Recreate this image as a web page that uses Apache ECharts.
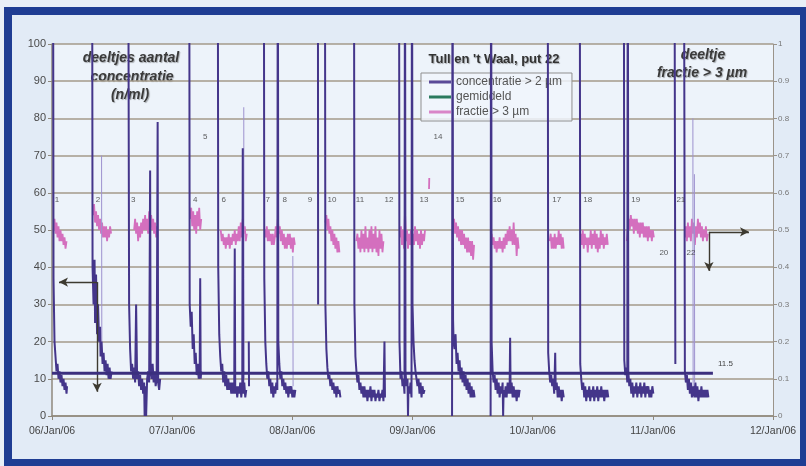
<!DOCTYPE html>
<html>
<head>
<meta charset="utf-8">
<script src="https://cdn.jsdelivr.net/npm/echarts@6/dist/echarts.min.js"></script>
<style>
  html, body { margin: 0; padding: 0; background: #e9eff7; }
  #wrap { position: relative; width: 806px; height: 466px; overflow: hidden; background: #e9eff7; }
  #frame { position: absolute; left: 4px; top: 7px; width: 804px; height: 459px; box-sizing: border-box;
           border: 8px solid #1f3d93; border-bottom-width: 7px; background: #e2ebf6; }
  #chart { position: absolute; left: 0; top: 0; width: 806px; height: 466px; }
</style>
</head>
<body>
<div id="wrap">
  <div id="frame"></div>
  <div id="chart"></div>
</div>
<script>
// ---- data (hours since 06/Jan/06 00:00) ----
const dayLabels = ['06/Jan/06', '07/Jan/06', '08/Jan/06', '09/Jan/06', '10/Jan/06', '11/Jan/06', '12/Jan/06'];

// concentratie > 2 µm (n/ml), null = measurement gap
const concentration = [
  [0.2,150],[0.3,37],[0.5,20],[0.7,16],[0.9,12],[1.1,14],[1.3,10],[1.5,12],[1.7,9],[1.9,11],[2.1,8],[2.3,10],[2.5,7],[2.7,9],[2.9,6],[3.0,8],null,
  [8.0,150],[8.1,40],[8.3,30],[8.5,42],[8.6,25],[8.8,38],[9.0,22],[9.2,30],[9.4,20],[9.6,24],[9.7,16],[9.9,20],[10.1,14],[10.3,17],[10.5,12],[10.7,15],[10.9,11],[11.1,14],[11.3,10],[11.5,13],[11.7,10],[11.9,12],null,
  [15.2,150],[15.4,30],[15.6,18],[15.8,12],[16.0,14],[16.2,10],[16.4,13],[16.6,9],[16.8,30],[17.0,10],[17.2,12],[17.4,8],[17.6,11],[17.8,7],[18.0,10],[18.2,6],[18.4,9],[18.5,0],[18.7,8],[18.8,0],[19.0,10],[19.2,12],[19.4,9],[19.6,66],[19.7,12],[19.9,10],[20.1,14],[20.3,9],[20.5,12],[20.7,8],[20.9,10],[21.1,79],[21.2,9],[21.4,7],[21.6,10],null,
  [27.4,150],[27.5,30],[27.7,24],[27.9,28],[28.1,18],[28.3,22],[28.5,14],[28.7,17],[28.9,11],[29.1,14],[29.3,10],[29.5,13],[29.6,37],[29.7,10],[29.8,12],null,
  [33.1,150],[33.2,40],[33.4,22],[33.6,16],[33.8,12],[34.0,14],[34.2,9],[34.4,12],[34.6,8],[34.8,11],[35.0,7],[35.2,10],[35.4,7],[35.6,9],[35.8,6],[36.0,9],[36.2,6],[36.4,9],[36.5,45],[36.6,6],[36.8,8],[37.0,5],[37.2,8],[37.4,6],[37.6,9],[37.8,5],[38.0,8],[38.1,72],[38.2,6],[38.4,9],[38.6,5],[38.8,7],null,
  [39.3,20],[39.35,8],null,
  [42.3,150],[42.4,37],[42.6,20],[42.8,14],[43.0,10],[43.2,12],[43.4,8],[43.6,10],[43.8,6],[44.0,9],[44.2,5],[44.4,8],[44.6,6],[44.8,9],[45.0,7],[45.1,150],[45.2,20],[45.4,14],[45.6,10],[45.8,12],[46.0,8],[46.2,10],[46.4,7],[46.6,9],[46.8,6],[47.0,8],[47.2,5],[47.4,8],[47.6,6],[47.8,8],[48.0,5],[48.2,7],[48.4,5],[48.6,7],null,
  [53.1,150],[53.15,30],null,
  [54.5,150],[54.6,30],[54.8,18],[55.0,13],[55.2,10],[55.4,11],[55.6,8],[55.8,10],[56.0,7],[56.2,9],[56.4,6],[56.6,8],[56.8,5],[57.0,8],[57.2,6],[57.4,7],[57.6,5],null,
  [60.3,150],[60.4,30],[60.6,16],[60.8,12],[61.0,9],[61.2,11],[61.4,7],[61.6,9],[61.8,6],[62.0,8],[62.2,5],[62.4,8],[62.6,5],[62.8,7],[63.0,4],[63.2,7],[63.4,5],[63.6,8],[63.8,4],[64.0,7],[64.2,5],[64.4,7],[64.6,4],[64.8,6],[65.0,5],[65.2,7],[65.4,4],[65.6,6],[65.8,5],[66.0,7],[66.2,4],[66.4,20],[66.5,5],null,
  [69.3,150],[69.4,20],[69.6,10],[69.8,12],[70.0,8],[70.2,10],[70.4,6],[70.5,150],[70.6,12],[70.8,8],[71.0,10],[71.1,0],[71.2,8],[71.4,6],[71.6,9],[71.8,5],[71.9,150],[72.0,30],[72.2,20],[72.4,15],[72.6,12],[72.8,10],[73.0,8],[73.2,10],[73.4,6],[73.6,9],[73.8,5],[74.0,8],[74.2,6],[74.4,7],null,
  [79.9,0],[80.0,150],[80.1,26],[80.2,20],[80.4,18],[80.6,22],[80.8,14],[81.0,17],[81.2,12],[81.4,15],[81.6,10],[81.8,13],[82.0,9],[82.2,12],[82.4,8],[82.6,11],[82.8,7],[83.0,10],[83.2,6],[83.4,9],[83.6,5],[83.8,8],[84.0,5],[84.2,7],[84.4,5],null,
  [87.6,0],[87.7,150],[87.8,20],[88.0,12],[88.2,9],[88.4,11],[88.6,7],[88.8,10],[89.0,6],[89.2,9],[89.4,5],[89.6,8],[89.8,6],[90.0,9],[90.1,0],[90.2,7],[90.4,5],[90.6,8],[90.8,5],[91.0,9],[91.2,6],[91.4,8],[91.5,21],[91.6,6],[91.8,9],[92.0,5],[92.2,8],[92.4,5],[92.6,7],[92.8,4],[93.0,7],[93.2,5],[93.4,7],null,
  [99.0,150],[99.1,17],[99.3,12],[99.5,9],[99.7,11],[99.9,8],[100.1,10],[100.3,6],[100.5,17],[100.6,7],[100.8,9],[101.0,5],[101.2,8],[101.4,5],[101.6,7],[101.8,4],[102.0,7],[102.2,5],null,
  [105.4,150],[105.5,14],[105.7,10],[105.9,7],[106.1,9],[106.3,5],[106.5,8],[106.7,4],[106.9,7],[107.1,5],[107.3,8],[107.5,4],[107.7,7],[107.9,5],[108.1,8],[108.3,4],[108.5,7],[108.7,5],[108.9,8],[109.1,4],[109.3,7],[109.5,5],[109.7,8],[109.9,5],[110.1,7],[110.3,4],[110.5,7],[110.7,5],[110.9,7],[111.1,5],null,
  [114.2,150],[114.3,15],[114.5,11],[114.7,13],[114.9,9],[115.0,150],[115.1,12],[115.3,8],[115.5,10],[115.7,6],[115.9,9],[116.1,5],[116.3,8],[116.5,6],[116.7,9],[116.9,5],[117.1,8],[117.3,6],[117.5,9],[117.7,5],[117.9,8],[118.1,6],[118.3,9],[118.5,5],[118.7,8],[118.9,6],[119.1,8],[119.3,5],[119.5,7],[119.7,5],[119.9,8],[120.1,6],null,
  [124.3,150],[124.5,14],null,
  [126.2,150],[126.4,12],[126.6,9],[126.8,11],[127.0,7],[127.2,10],[127.4,6],[127.6,9],[127.8,5],[128.1,8],[128.3,5],[128.5,9],[128.7,5],[128.9,8],[129.1,4],[129.3,7],[129.5,5],[129.7,8],[129.9,5],[130.1,7],[130.3,5],[130.5,7],[130.7,5],[130.9,7],[131.1,5],null
];

// faint spikes in the concentration trace
const faintSpikes = [
  [9.9,70],[9.95,20],null,
  [38.3,83],[38.35,10],null,
  [48.1,43],[48.15,8],null,
  [128.0,80],[128.05,8],null,
  [128.3,65],[128.35,9],null
];

// fractie > 3 µm (0..1, right axis)
const fraction = [
  [0.3,0.50],[0.5,0.53],[0.7,0.49],[0.9,0.52],[1.1,0.48],[1.3,0.51],[1.5,0.47],[1.7,0.50],[1.9,0.47],[2.1,0.49],[2.3,0.46],[2.5,0.48],[2.7,0.45],[2.9,0.47],null,
  [8.2,0.54],[8.4,0.57],[8.6,0.52],[8.8,0.55],[9.0,0.51],[9.2,0.54],[9.4,0.50],[9.6,0.53],[9.8,0.49],[10.0,0.52],[10.2,0.48],[10.4,0.51],[10.6,0.48],[10.8,0.51],[11.0,0.47],[11.2,0.50],[11.4,0.48],[11.6,0.51],[11.8,0.49],null,
  [16.4,0.50],[16.6,0.53],[16.8,0.49],[17.0,0.52],[17.2,0.47],[17.4,0.51],[17.6,0.48],[17.8,0.52],[18.0,0.49],[18.2,0.53],[18.4,0.50],[18.6,0.54],[18.8,0.50],[19.0,0.53],[19.2,0.49],[19.4,0.55],[19.6,0.51],[19.8,0.54],[20.0,0.50],[20.2,0.53],[20.4,0.49],[20.6,0.52],[20.8,0.48],[21.0,0.51],null,
  [27.6,0.53],[27.8,0.56],[28.0,0.51],[28.2,0.55],[28.4,0.50],[28.6,0.54],[28.8,0.49],[29.0,0.55],[29.2,0.51],[29.4,0.56],[29.6,0.50],[29.8,0.53],null,
  [33.7,0.50],[33.9,0.47],[34.1,0.49],[34.3,0.46],[34.5,0.48],[34.7,0.45],[34.9,0.48],[35.1,0.46],[35.3,0.49],[35.5,0.45],[35.7,0.48],[35.9,0.46],[36.1,0.49],[36.3,0.47],[36.5,0.50],[36.7,0.46],[36.9,0.49],[37.1,0.47],[37.3,0.51],[37.5,0.47],[37.7,0.52],[37.9,0.48],[38.1,0.53],[38.3,0.49],[38.5,0.51],[38.7,0.47],[38.9,0.49],null,
  [42.5,0.50],[42.7,0.48],[42.9,0.51],[43.1,0.47],[43.3,0.50],[43.5,0.47],[43.7,0.49],[43.9,0.46],[44.1,0.49],[44.3,0.46],[44.5,0.48],[44.7,0.51],[44.9,0.48],[45.1,0.53],[45.3,0.49],[45.5,0.51],[45.7,0.47],[45.9,0.50],[46.1,0.46],[46.3,0.49],[46.5,0.45],[46.7,0.48],[46.9,0.45],[47.1,0.49],[47.3,0.46],[47.5,0.49],[47.7,0.45],[47.9,0.48],[48.1,0.44],[48.3,0.48],[48.5,0.46],null,
  [54.6,0.52],[54.8,0.54],[55.0,0.50],[55.2,0.53],[55.4,0.49],[55.6,0.51],[55.8,0.47],[56.0,0.50],[56.2,0.46],[56.4,0.49],[56.6,0.45],[56.8,0.48],[57.0,0.44],[57.2,0.47],[57.4,0.44],null,
  [60.8,0.47],[61.0,0.49],[61.2,0.45],[61.4,0.48],[61.6,0.44],[61.8,0.50],[62.0,0.45],[62.2,0.49],[62.4,0.44],[62.6,0.51],[62.8,0.45],[63.0,0.48],[63.2,0.44],[63.4,0.50],[63.6,0.45],[63.8,0.51],[64.0,0.44],[64.2,0.49],[64.4,0.45],[64.6,0.51],[64.8,0.44],[65.0,0.48],[65.2,0.43],[65.4,0.50],[65.6,0.45],[65.8,0.49],[66.0,0.44],[66.2,0.47],null,
  [69.5,0.48],[69.7,0.51],[69.9,0.46],[70.1,0.50],[70.3,0.45],[70.5,0.55],[70.7,0.47],[70.9,0.50],[71.1,0.45],[71.3,0.49],[71.5,0.46],[71.7,0.50],[71.9,0.45],[72.1,0.49],[72.3,0.46],[72.5,0.51],[72.7,0.47],[72.9,0.50],[73.1,0.46],[73.3,0.49],[73.5,0.45],[73.7,0.50],[73.9,0.46],[74.1,0.49],[74.3,0.47],[74.5,0.50],null,
  [75.3,0.61],[75.35,0.64],null,
  [80.1,0.50],[80.3,0.53],[80.5,0.49],[80.7,0.52],[80.9,0.48],[81.1,0.51],[81.3,0.47],[81.5,0.50],[81.7,0.46],[81.9,0.50],[82.1,0.46],[82.3,0.49],[82.5,0.45],[82.7,0.48],[82.9,0.44],[83.1,0.48],[83.3,0.44],[83.5,0.47],[83.7,0.43],[83.9,0.47],[84.1,0.42],[84.3,0.46],null,
  [87.8,0.49],[88.0,0.46],[88.2,0.48],[88.4,0.45],[88.6,0.47],[88.8,0.44],[89.0,0.47],[89.2,0.45],[89.4,0.48],[89.6,0.45],[89.8,0.47],[90.0,0.44],[90.2,0.48],[90.4,0.45],[90.6,0.49],[90.8,0.46],[91.0,0.50],[91.2,0.47],[91.4,0.51],[91.6,0.47],[91.8,0.50],[92.0,0.46],[92.2,0.52],[92.4,0.46],[92.6,0.49],[92.8,0.43],[93.0,0.48],[93.2,0.45],null,
  [99.4,0.47],[99.6,0.49],[99.8,0.45],[100.0,0.48],[100.2,0.45],[100.4,0.49],[100.6,0.45],[100.8,0.48],[101.0,0.46],[101.2,0.50],[101.4,0.46],[101.6,0.49],[101.8,0.45],[102.0,0.48],[102.2,0.45],null,
  [105.6,0.49],[105.8,0.46],[106.0,0.50],[106.2,0.45],[106.4,0.49],[106.6,0.46],[106.8,0.48],[107.0,0.44],[107.2,0.48],[107.4,0.46],[107.6,0.50],[107.8,0.45],[108.0,0.49],[108.2,0.46],[108.4,0.50],[108.6,0.45],[108.8,0.49],[109.0,0.44],[109.2,0.48],[109.4,0.45],[109.6,0.50],[109.8,0.46],[110.0,0.49],[110.2,0.45],[110.4,0.48],[110.6,0.46],[110.8,0.49],[111.0,0.46],null,
  [114.8,0.47],[115.0,0.50],[115.2,0.53],[115.4,0.50],[115.6,0.54],[115.8,0.51],[116.0,0.53],[116.2,0.49],[116.4,0.53],[116.6,0.50],[116.8,0.53],[117.0,0.49],[117.2,0.52],[117.4,0.48],[117.6,0.52],[117.8,0.49],[118.0,0.52],[118.2,0.48],[118.4,0.51],[118.6,0.48],[118.8,0.51],[119.0,0.47],[119.2,0.51],[119.4,0.48],[119.6,0.50],[119.8,0.47],[120.0,0.50],[120.2,0.48],null,
  [126.4,0.48],[126.6,0.51],[126.8,0.47],[127.0,0.52],[127.2,0.48],[127.4,0.51],[127.6,0.47],[127.8,0.53],[128.0,0.49],[128.2,0.52],[128.4,0.46],[128.6,0.51],[128.8,0.48],[129.0,0.53],[129.2,0.49],[129.4,0.52],[129.6,0.48],[129.8,0.51],[130.0,0.47],[130.2,0.50],[130.4,0.48],[130.6,0.51],[130.8,0.47],[131.0,0.49],null
];

// gemiddeld (mean concentration)
const meanValue = 11.5;
const meanSpan = [0, 132];

// sample numbers: [hour, left-axis value, text]
const sampleLabels = [
  [1.0,58,'1'],[9.2,58,'2'],[16.2,58,'3'],[28.6,58,'4'],[30.6,75,'5'],[34.3,58,'6'],[43.1,58,'7'],[46.5,58,'8'],
  [51.5,58,'9'],[55.9,58,'10'],[61.5,58,'11'],[67.3,58,'12'],[74.3,58,'13'],[77.1,75,'14'],[81.5,58,'15'],
  [88.9,58,'16'],[100.8,58,'17'],[107.0,58,'18'],[116.6,58,'19'],[122.2,44,'20'],[125.6,58,'21'],[127.6,44,'22']
];

// annotation arrows in data coordinates (hour, left-axis value)
const leftArrows = [
  [[9.0,36],[1.4,36]],
  [[9.0,36],[9.0,6.5]]
];
const rightArrows = [
  [[131.2,49.5],[139.2,49.5]],
  [[131.2,49.5],[131.2,39]]
];

const gap = p => (p === null ? [null, null] : p);
const FONT = '"Liberation Sans", Arial, sans-serif';
const conc = '#44358a';
const pink = '#d46fbe';

const chart = echarts.init(document.getElementById('chart'), null, { renderer: 'canvas' });

const arrowLines = leftArrows.concat(rightArrows).map(a => [
  { coord: a[0], symbol: 'none' },
  { coord: a[1], symbol: 'arrow', symbolSize: [7, 9] }
]);

const shadow = { textShadowColor: 'rgba(0,0,0,0.3)', textShadowBlur: 1, textShadowOffsetX: 1, textShadowOffsetY: 1 };
const annot = (x, y, text) => ({ type: 'text', x: x, y: y,
  style: Object.assign({ text: text, font: 'italic bold 14px ' + FONT, fill: '#3a3a3a', align: 'center', verticalAlign: 'middle' }, shadow) });

chart.setOption({
  backgroundColor: 'transparent',
  animation: false,
  textStyle: { fontFamily: FONT },
  grid: { left: 52, right: 33, top: 44, bottom: 50, show: true, backgroundColor: '#edf3fa', borderWidth: 0 },
  legend: {
    left: 421, top: 73, orient: 'vertical', itemGap: 3, itemWidth: 22, itemHeight: 3,
    padding: [3, 10, 3, 8],
    backgroundColor: 'rgba(240,245,251,0.85)', borderColor: '#8f8f8f', borderWidth: 1,
    textStyle: { fontSize: 12, color: '#555', fontFamily: FONT },
    data: [
      { name: 'concentratie > 2 µm', icon: 'rect', itemStyle: { color: '#5a4a98' } },
      { name: 'gemiddeld', icon: 'rect', itemStyle: { color: '#2b7a5e' } },
      { name: 'fractie > 3 µm', icon: 'rect', itemStyle: { color: '#d985c8' } }
    ]
  },
  xAxis: {
    type: 'value', min: 0, max: 144, interval: 24,
    axisLine: { show: true, lineStyle: { color: '#8f887c', width: 1.5 } },
    axisTick: { show: true, length: 4, lineStyle: { color: '#8f887c' } },
    splitLine: { show: false },
    axisLabel: { formatter: v => dayLabels[Math.round(v / 24)], fontSize: 10.5, color: '#444', margin: 10 }
  },
  yAxis: [
    {
      type: 'value', min: 0, max: 100, interval: 10,
      axisLine: { show: true, lineStyle: { color: '#8f887c', width: 1.5 } },
      axisTick: { show: true, length: 4, lineStyle: { color: '#8f887c' } },
      splitLine: { show: true, lineStyle: { color: '#a39a8a', width: 1.5 } },
      axisLabel: { fontSize: 11, color: '#4a4a4a', margin: 6 }
    },
    {
      type: 'value', min: 0, max: 1, interval: 0.1, position: 'right',
      axisLine: { show: true, lineStyle: { color: '#9a938a', width: 1 } },
      axisTick: { show: true, length: 4, lineStyle: { color: '#9a938a' } },
      splitLine: { show: false },
      axisLabel: { fontSize: 8, color: '#777', margin: 5,
        formatter: v => (v === 0 ? '0' : (Math.abs(v - 1) < 1e-9 ? '1' : v.toFixed(1))) }
    }
  ],
  series: [
    {
      name: 'fractie > 3 µm', type: 'line', yAxisIndex: 1, showSymbol: false, z: 3,
      data: fraction.map(gap), lineStyle: { color: pink, width: 1.8 }, itemStyle: { color: pink }
    },
    {
      name: 'faint', type: 'line', showSymbol: false, z: 3,
      data: faintSpikes.map(gap), lineStyle: { color: '#9e92cf', width: 1 }
    },
    {
      name: 'concentratie > 2 µm', type: 'line', showSymbol: false, z: 4,
      data: concentration.map(gap), lineStyle: { color: conc, width: 2 }, itemStyle: { color: conc },
      markLine: {
        silent: true, symbol: ['none', 'arrow'], label: { show: false },
        lineStyle: { color: '#3d3a30', width: 1.4, type: 'solid' },
        data: arrowLines
      }
    },
    {
      name: 'gemiddeld', type: 'line', showSymbol: false, z: 5,
      data: meanSpan.map(h => [h, meanValue]),
      lineStyle: { color: '#3b2f7e', width: 3 }, itemStyle: { color: '#3b2f7e' },
      endLabel: { show: true, formatter: String(meanValue), fontSize: 8, color: '#444', offset: [-3, -9] }
    },
    {
      name: 'labels', type: 'scatter', symbolSize: 0, z: 6, silent: true,
      data: sampleLabels,
      label: { show: true, position: 'inside', formatter: p => p.data[2], fontSize: 8, color: '#333' }
    }
  ],
  graphic: [
    { type: 'text', x: 494, y: 59, style: Object.assign({ text: "Tull en 't Waal, put 22", font: 'bold 13px ' + FONT, fill: '#333', align: 'center', verticalAlign: 'middle' }, shadow) },
    annot(131, 58, 'deeltjes aantal'),
    annot(132, 77, 'concentratie'),
    annot(130, 95, '(n/ml)'),
    annot(703, 55, 'deeltje'),
    annot(702, 73, 'fractie > 3 µm')
  ]
});
</script>
</body>
</html>
